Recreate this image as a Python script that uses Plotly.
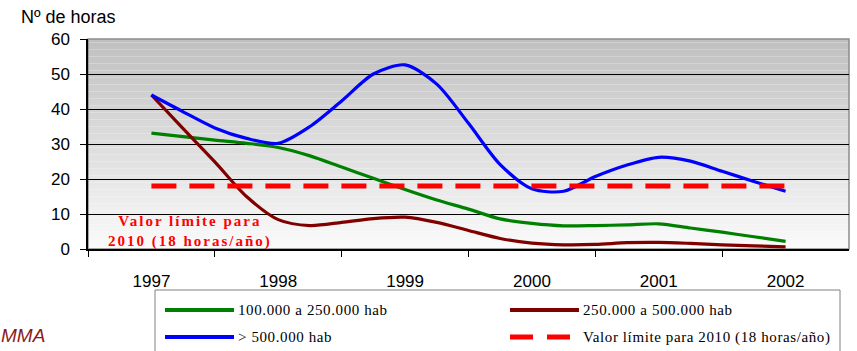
import plotly.graph_objects as go

# Calendar years shown on the axis and the quarterly sampling of each series
anios = [1997, 1998, 1999, 2000, 2001, 2002]
trimestres = [1997.0, 1997.25, 1997.5, 1997.75,
              1998.0, 1998.25, 1998.5, 1998.75,
              1999.0, 1999.25, 1999.5, 1999.75,
              2000.0, 2000.25, 2000.5, 2000.75,
              2001.0, 2001.25, 2001.5, 2001.75,
              2002.0]

# Hours per year above the threshold, by city size
hab_100_250 = [33.1, 32.1, 31.1, 30.2, 29.0, 26.6, 23.4, 20.2, 17.0, 14.0, 11.4,
               8.6, 7.3, 6.6, 6.7, 6.9, 7.2, 6.0, 4.8, 3.5, 2.2]
hab_250_500 = [44.0, 34.4, 24.9, 15.0, 8.4, 6.7, 7.6, 8.7, 9.1, 7.6, 5.3,
               3.0, 1.7, 1.2, 1.3, 1.8, 1.9, 1.6, 1.2, 0.9, 0.6]
hab_500 = [44.0, 39.2, 34.6, 31.6, 30.2, 35.0, 42.3, 50.0, 52.6, 47.1, 35.9,
           24.1, 17.2, 16.5, 20.7, 24.0, 26.2, 25.1, 22.2, 19.3, 16.5]
limite_2010 = 18

W, H = 857, 351
ML, MR, MT, MB = 88, 8, 39, 102
PW, PH = W - ML - MR, H - MT - MB


def px_x(x):
    return (x - ML) / PW


def px_y(y):
    return (H - MB - y) / PH


SANS = "Liberation Sans, Arial, sans-serif"
SERIF = "Liberation Serif, Times New Roman, serif"

series = [
    ("100.000 a 250.000 hab", hab_100_250, "#008000", "solid"),
    ("250.000 a 500.000 hab", hab_250_500, "#800000", "solid"),
    ("> 500.000 hab", hab_500, "#0000ff", "solid"),
]
limite_nombre = "Valor límite para 2010 (18 horas/año)"

fig = go.Figure()
for nombre, valores, color, _ in series:
    fig.add_trace(go.Scatter(
        x=trimestres, y=valores, name=nombre, mode="lines",
        line=dict(color=color, width=3.2, shape="spline", smoothing=0.8),
    ))

fig.add_trace(go.Scatter(
    x=[anios[0], anios[-1]], y=[limite_2010, limite_2010],
    name=limite_nombre, mode="lines",
    line=dict(color="#ff0000", width=5, dash="25px,13px"),
))

# Vertical gradient behind the plot area
shapes = []
n = 60
for i in range(n):
    t = (i + 0.5) / n
    g = round(250 - (250 - 192) * t)
    shapes.append(dict(
        type="rect", xref="paper", yref="paper",
        x0=0, x1=1, y0=i / n, y1=(i + 1) / n,
        fillcolor=f"rgb({g},{g},{g})", line=dict(width=0), layer="below",
    ))
# Grey frame on top of the gridlines
shapes.append(dict(type="rect", xref="paper", yref="paper", x0=0, x1=1, y0=0, y1=1,
                   line=dict(color="#8c8c8c", width=1.5), layer="between"))

# Legend box laid out in two columns under the axis
annotations = []
shapes.append(dict(type="rect", xref="paper", yref="paper",
                   x0=px_x(155), x1=px_x(840), y0=px_y(362), y1=px_y(290),
                   fillcolor="white", line=dict(color="#808080", width=1), layer="above"))
entradas = [
    (series[0][0], series[0][2], "solid", 165, 310),
    (series[1][0], series[1][2], "solid", 510, 310),
    (series[2][0], series[2][2], "solid", 165, 337),
    (limite_nombre, "#ff0000", "23px,14px", 510, 337),
]
for texto, color, dash, x0, yc in entradas:
    shapes.append(dict(type="line", xref="paper", yref="paper",
                       x0=px_x(x0), x1=px_x(x0 + 69), y0=px_y(yc), y1=px_y(yc),
                       line=dict(color=color, width=4 if dash == "solid" else 5, dash=dash),
                       layer="above"))
    annotations.append(dict(
        text=f"<span style='letter-spacing:0.6px'>{texto.replace('>', '&gt;')}</span>",
        xref="paper", yref="paper", x=px_x(x0 + 71), y=px_y(yc),
        xanchor="left", yanchor="middle", showarrow=False,
        font=dict(family=SERIF, size=15, color="black")))

annotations += [
    dict(text="Nº de horas", xref="paper", yref="paper", x=px_x(19), y=px_y(17),
         xanchor="left", yanchor="middle", showarrow=False,
         font=dict(family=SANS, size=18, color="black")),
    dict(text="<b><span style='letter-spacing:2px'>Valor límite para<br>2010 (18 horas/año)</span></b>",
         xref="paper", yref="paper", x=px_x(190), y=px_y(231),
         xanchor="center", yanchor="middle", showarrow=False, align="center",
         font=dict(family=SERIF, size=15, color="#ff0000")),
    dict(text="<i>MMA</i>", xref="paper", yref="paper", x=px_x(-1), y=px_y(335),
         xanchor="left", yanchor="middle", showarrow=False,
         font=dict(family=SANS, size=19, color="#8b1a1a")),
]

fig.update_layout(
    width=W, height=H,
    margin=dict(l=ML, r=MR, t=MT, b=MB),
    paper_bgcolor="white", plot_bgcolor="white",
    shapes=shapes,
    annotations=annotations,
    showlegend=False,
    xaxis=dict(
        range=[1996.5, 2002.5], tickmode="array", tickvals=anios,
        ticktext=[str(a) for a in anios],
        ticks="outside", ticklen=6, tickcolor="rgba(0,0,0,0)", ticklabelstandoff=10,
        tickfont=dict(family=SANS, size=17, color="black"),
        showgrid=False, zeroline=False,
        showline=True, linecolor="black", linewidth=2,
        minor=dict(tickmode="array", tickvals=[1996.5, 1997.5, 1998.5, 1999.5, 2000.5, 2001.5],
                   ticks="outside", ticklen=6, tickcolor="black", tickwidth=1, showgrid=False),
        fixedrange=True,
    ),
    yaxis=dict(
        range=[0, 60], tickmode="linear", tick0=0, dtick=10,
        ticks="outside", ticklen=6, tickcolor="black", ticklabelstandoff=7,
        tickfont=dict(family=SANS, size=17, color="black"),
        showgrid=True, gridcolor="black", gridwidth=1, zeroline=False,
        showline=True, linecolor="black", linewidth=1.5,
        fixedrange=True,
    ),
)

fig.write_html("out.html")
